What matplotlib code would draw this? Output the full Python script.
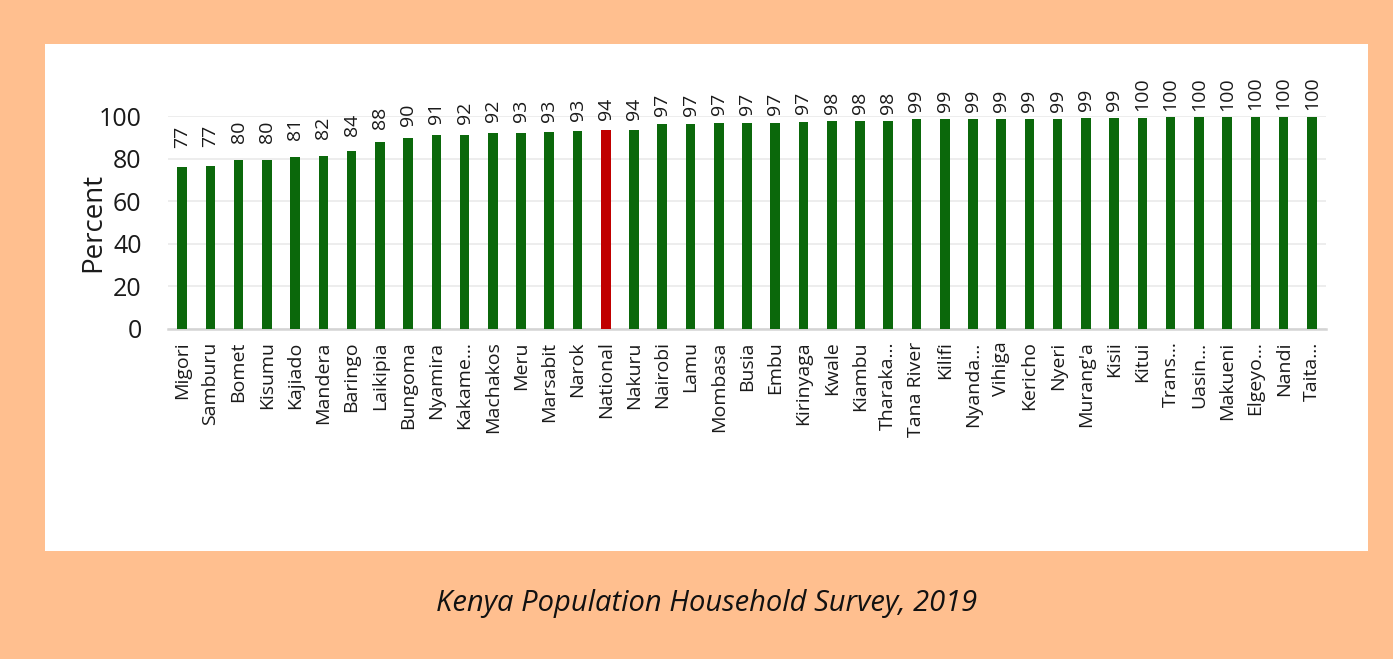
import matplotlib
matplotlib.use("Agg")
import matplotlib.pyplot as plt
from matplotlib.patches import Rectangle

counties = [
    "Migori", "Samburu", "Bomet", "Kisumu", "Kajiado", "Mandera", "Baringo",
    "Laikipia", "Bungoma", "Nyamira", "Kakame\u2026", "Machakos", "Meru",
    "Marsabit", "Narok", "National", "Nakuru", "Nairobi", "Lamu", "Mombasa",
    "Busia", "Embu", "Kirinyaga", "Kwale", "Kiambu", "Tharaka\u2026",
    "Tana River", "Kilifi", "Nyanda\u2026", "Vihiga", "Kericho", "Nyeri",
    "Murang'a", "Kisii", "Kitui", "Trans\u2026", "Uasin\u2026", "Makueni",
    "Elgeyo\u2026", "Nandi", "Taita\u2026",
]
# bar heights
percent = [
    76.0, 76.4, 79.2, 79.2, 80.8, 81.4, 83.4, 87.7, 89.5, 91.2, 91.2,
    92.0, 92.0, 92.3, 93.0, 93.3, 93.6, 96.3, 96.3, 96.6, 96.6, 96.6,
    97.2, 97.5, 97.5, 97.5, 98.4, 98.4, 98.4, 98.4, 98.4, 98.8, 99.1,
    99.1, 99.1, 99.4, 99.4, 99.4, 99.7, 99.7, 99.7,
]
# printed value labels
value_labels = [
    77, 77, 80, 80, 81, 82, 84, 88, 90, 91, 92, 92, 93, 93, 93, 94, 94,
    97, 97, 97, 97, 97, 97, 98, 98, 98, 99, 99, 99, 99, 99, 99, 99, 99,
    100, 100, 100, 100, 100, 100, 100,
]
y_ticks = [0, 20, 40, 60, 80, 100]
caption = "Kenya Population Household Survey, 2019"

GREEN = "#0b680b"
RED = "#c00000"
ORANGE = "#ffbf8f"
TEXT = "#1a1a1a"

plt.rcParams["font.family"] = ["Open Sans", "DejaVu Sans"]

fig = plt.figure(figsize=(13.93, 6.59), dpi=100)
fig.patch.set_facecolor(ORANGE)

# white panel behind the chart
fig.patches.append(Rectangle((45 / 1393, 1 - 551 / 659), 1323 / 1393, 507 / 659,
                             transform=fig.transFigure, facecolor="white",
                             edgecolor="none", zorder=-5))

ax = fig.add_axes([168 / 1393, 1 - 329 / 659, 1158 / 1393, 213 / 659])
ax.set_facecolor("white")

x = list(range(len(counties)))
colors = [RED if c == "National" else GREEN for c in counties]
ax.bar(x, percent, width=0.34, color=colors, zorder=3)

for xi, h, lab in zip(x, percent, value_labels):
    # labels sit higher above the shorter bars, as in the original
    gap = 3.0 + (100 - h) * 0.25
    ax.text(xi, h + gap, str(lab), rotation=90, ha="center", va="bottom",
            fontsize=14, color=TEXT, clip_on=False)

ax.set_xlim(-0.5, len(counties) - 0.5)
ax.set_ylim(0, 100)
ax.set_yticks(y_ticks)
ax.set_xticks(x)
ax.set_xticklabels(counties, rotation=90, fontsize=14, color=TEXT)
ax.tick_params(axis="x", length=0, pad=9)
ax.tick_params(axis="y", length=0, pad=19, labelsize=18, labelcolor=TEXT)
ax.grid(axis="y", color="#ececec", lw=1.3, zorder=0)
for s in ["top", "right", "left"]:
    ax.spines[s].set_visible(False)
ax.spines["bottom"].set_color("#d4d4d4")
ax.spines["bottom"].set_linewidth(1.8)
ax.set_ylabel("Percent", fontsize=20, color=TEXT, labelpad=-6)

fig.text(707 / 1393, 1 - 604 / 659, caption, ha="center", va="center",
         fontsize=21, style="italic", color="#111111")

fig.savefig("out.png", dpi=100, facecolor=fig.get_facecolor())
